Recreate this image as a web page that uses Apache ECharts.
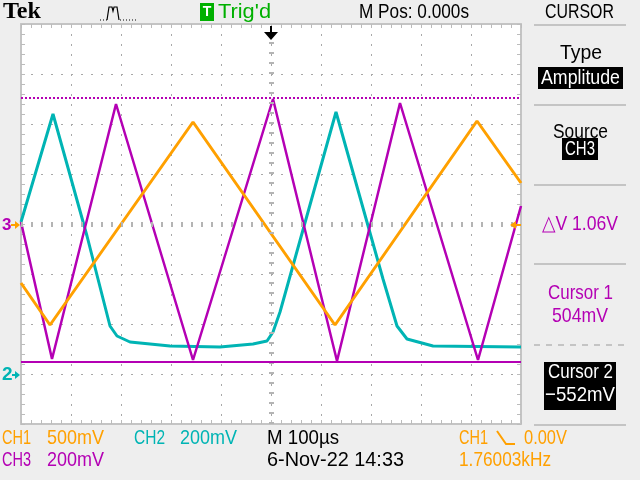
<!DOCTYPE html>
<html><head><meta charset="utf-8">
<script src="https://cdn.jsdelivr.net/npm/echarts@6/dist/echarts.min.js"></script>
<style>html,body{margin:0;padding:0;background:#eeeeee}#c{width:640px;height:480px}</style>
</head><body><div id="c"></div><script>
// ---- data (time in microseconds, values in volts) ----
const ch1Time = [-500, -442, -156, 128, 412, 500];
const ch1Volt = [-0.59, -1.01, 1.02, -1.01, 1.03, 0.41];
const ch2Time = [-500, -436, -368, -322, -308, -282, -202, -102, -36, -8, 4, 18, 130, 224, 252, 272, 324, 500];
const ch2Volt = [0.608, 1.04, 0.552, 0.192, 0.152, 0.128, 0.112, 0.108, 0.12, 0.132, 0.168, 0.248, 1.048, 0.38, 0.192, 0.14, 0.112, 0.108];
const ch3Time = [-500, -438, -310, -156, 4, 132, 258, 414, 500];
const ch3Volt = [0.008, -0.54, 0.48, -0.544, 0.5, -0.548, 0.484, -0.544, 0.072];
const cursorVolts = [0.504, -0.552];
// channel settings: volts/div and ground position in divisions
const ch1Scale = 0.5, ch1Ground = 0;
const ch2Scale = 0.2, ch2Ground = -3;
const ch3Scale = 0.2, ch3Ground = 0;

const C1 = '#ffa000', C2 = '#00b4b4', C3 = '#b400b4', GREEN = '#00b000';

function build(t, v, s, g) { return t.map((x, i) => [x, v[i] / s + g]); }

const gridLine = {show: true, lineStyle: {color: '#a8a8a8', width: 1, type: [2, 8]}};
const edge = {show: true, onZero: false, lineStyle: {color: '#c4c4c4', width: 2}};
const tick = {show: true, inside: true, length: 4, lineStyle: {color: '#bcbcbc', width: 1}};
const minor = {show: true, splitNumber: 5, length: 4, lineStyle: {color: '#bcbcbc', width: 1}};
function xAx(pos, split) {
  return {type: 'value', min: -500, max: 500, interval: 100, position: pos, axisLine: edge,
    axisTick: tick, minorTick: minor, axisLabel: {show: false}, splitLine: split ? gridLine : {show: false}};
}
function yAx(pos, split) {
  return {type: 'value', min: -4, max: 4, interval: 1, position: pos, axisLine: edge,
    axisTick: tick, minorTick: minor, axisLabel: {show: false}, splitLine: split ? gridLine : {show: false}};
}

// text helper: fit width by scaling horizontally
const mctx = document.createElement('canvas').getContext('2d');
const BASEFONT = '21px "Liberation Sans"';
function txt(s, left, right, cy, color, font) {
  font = font || BASEFONT;
  mctx.font = font;
  const w = mctx.measureText(s).width;
  return {type: 'text', x: left, y: cy, scaleX: (right - left) / w, z: 100,
    style: {text: s, fill: color, font: font, textAlign: 'left', textVerticalAlign: 'middle'}};
}
function rect(x, y, w, h, fill) { return {type: 'rect', shape: {x, y, width: w, height: h}, style: {fill}, z: 90}; }
function hline(x1, x2, y, dash) {
  return {type: 'line', shape: {x1, y1: y, x2, y2: y}, z: 90,
    style: {stroke: '#c4c4c4', lineWidth: 2, lineDash: dash || null}};
}
function poly(pts, fill) { return {type: 'polygon', shape: {points: pts}, style: {fill}, z: 100}; }

const graphics = [
  // top bar
  {type: 'text', x: 3, y: 12, z: 100, style: {text: 'Tek', fill: '#000', font: 'bold 24px "Liberation Serif"', textAlign: 'left', textVerticalAlign: 'middle'}},
  {type: 'polyline', z: 100, shape: {points: [[100, 20], [107, 20]]}, style: {stroke: '#000', lineWidth: 1, lineDash: [1, 2]}},
  {type: 'polyline', z: 100, shape: {points: [[107, 20], [109, 7], [112, 7], [113, 11], [114, 7], [117, 7], [119, 20]]}, style: {stroke: '#000', lineWidth: 1.2, fill: null}},
  {type: 'polyline', z: 100, shape: {points: [[120, 20], [136, 20]]}, style: {stroke: '#000', lineWidth: 1, lineDash: [1, 2]}},
  rect(200, 3, 14, 18, GREEN),
  {type: 'text', x: 207, y: 12, z: 100, style: {text: 'T', fill: '#fff', font: 'bold 14px "Liberation Sans"', textAlign: 'center', textVerticalAlign: 'middle'}},
  txt("Trig'd", 218, 271, 12, GREEN),
  txt('M Pos: 0.000s', 359, 469, 12, '#000'),
  txt('CURSOR', 545, 614, 12, '#000'),
  // right panel
  hline(534, 626, 25), hline(534, 626, 105), hline(534, 626, 185), hline(534, 626, 264),
  hline(534, 626, 345, [6, 6]), hline(534, 626, 425),
  txt('Type', 560, 602, 53, '#000'),
  rect(538, 67, 85, 22, '#000'),
  txt('Amplitude', 541, 620, 78, '#fff'),
  txt('Source', 553, 608, 132, '#000'),
  rect(562, 138, 36, 22, '#000'),
  txt('CH3', 565, 595, 149, '#fff'),
  txt('\u25B3V 1.06V', 542, 618, 224, C3),
  txt('Cursor 1', 548, 613, 293, C3),
  txt('504mV', 552, 608, 316, C3),
  rect(544, 362, 72, 48, '#000'),
  txt('Cursor 2', 548, 613, 372, '#fff'),
  txt('\u2212552mV', 545, 615, 395, '#fff'),
  // bottom
  txt('CH1', 2, 31, 438, C1), txt('500mV', 47, 104, 438, C1),
  txt('CH2', 134, 165, 438, C2), txt('200mV', 180, 237, 438, C2),
  txt('M 100\u00B5s', 267, 339, 438, '#000'),
  txt('CH1', 459, 488, 438, C1),
  {type: 'polyline', z: 100, shape: {points: [[497, 431], [506, 444], [515, 444]]}, style: {stroke: C1, lineWidth: 2, fill: null}},
  txt('0.00V', 524, 567, 438, C1),
  txt('CH3', 2, 31, 460, C3), txt('200mV', 47, 104, 460, C3),
  txt('6-Nov-22 14:33', 267, 404, 460, '#000'),
  txt('1.76003kHz', 459, 551, 460, C1),
  // markers
  {type: 'text', x: 2, y: 225, z: 100, style: {text: '3', fill: C3, font: 'bold 17px "Liberation Sans"', textAlign: 'left', textVerticalAlign: 'middle'}},
  rect(11, 224, 5, 2, C1), poly([[15, 221], [20, 225], [15, 229]], C1),
  {type: 'text', x: 2, y: 375, z: 100, style: {text: '2', fill: C2, font: 'bold 19px "Liberation Sans"', textAlign: 'left', textVerticalAlign: 'middle'}},
  rect(12, 374, 4, 2, C2), poly([[15, 371], [20, 375], [15, 379]], C2),
  poly([[510, 225], [516, 221], [516, 229]], C1), rect(516, 224, 5, 2, C1),
  rect(270, 26, 2, 6, '#000'), poly([[264, 32], [278, 32], [271, 40]], '#000')
];

const chart = echarts.init(document.getElementById('c'), null, {renderer: 'canvas'});
chart.setOption({
  animation: false,
  backgroundColor: '#eeeeee',
  grid: {left: 21, top: 24, width: 500, height: 400, show: true, backgroundColor: '#ffffff', borderWidth: 0},
  xAxis: [xAx('bottom', true), xAx('top', false)],
  yAxis: [yAx('left', true), yAx('right', false)],
  series: [
    {type: 'line', data: [[0, 0]], showSymbol: false, lineStyle: {opacity: 0}, silent: true,
      markLine: {silent: true, symbol: ['none', 'none'], label: {show: false},
        lineStyle: {color: '#b4b4b4', width: 5, type: [2, 8]}, data: [{yAxis: 0}, {xAxis: 0}]}},
    {name: 'CH2', type: 'line', data: build(ch2Time, ch2Volt, ch2Scale, ch2Ground), showSymbol: false,
      lineStyle: {color: C2, width: 3}},
    {name: 'CH3', type: 'line', data: build(ch3Time, ch3Volt, ch3Scale, ch3Ground), showSymbol: false,
      lineStyle: {color: C3, width: 2.5},
      markLine: {silent: true, symbol: ['none', 'none'], label: {show: false},
        data: [
          {yAxis: cursorVolts[0] / ch3Scale + ch3Ground, lineStyle: {color: C3, width: 2, type: [2, 2]}},
          {yAxis: cursorVolts[1] / ch3Scale + ch3Ground, lineStyle: {color: C3, width: 2, type: 'solid'}}
        ]}},
    {name: 'CH1', type: 'line', data: build(ch1Time, ch1Volt, ch1Scale, ch1Ground), showSymbol: false,
      lineStyle: {color: C1, width: 3}}
  ],
  graphic: graphics
});
</script></body></html>
